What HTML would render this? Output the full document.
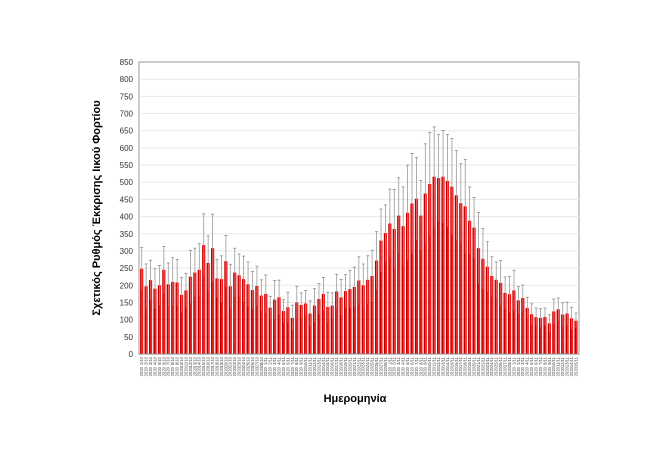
<!DOCTYPE html>
<html><head><meta charset="utf-8"><style>
body{margin:0;background:#fff;width:660px;height:466px;overflow:hidden;font-family:"Liberation Sans",sans-serif}
</style></head><body>
<svg id="s" width="660" height="466" xmlns="http://www.w3.org/2000/svg" font-family="Liberation Sans, sans-serif"></svg>
<script>
(function(){
var v=[248,197,215,190,200,245,203,210,208,172,185,225,237,245,317,265,308,220,218,270,197,237,229,218,203,186,198,170,175,135,158,165,125,136,105,150,143,147,118,
141,160,175,137,141,182,165,183,189,195,214,200,216,227,272,
330,352,380,364,403,372,411,438,452,403,467,495,516,512,516,504,487,462,439,430,388,368,308,277,254,227,216,207,178,174,185,156,163,134,116,107,105,108,89,124,130,115,118,104,97];
var e=[310,262,273,248,258,313,265,280,275,222,235,302,308,321,408,344,407,275,286,345,260,308,291,285,268,240,256,216,230,168,214,215,158,180,142,197,178,185,155,
190,205,223,180,178,232,217,231,243,253,283,262,286,302,356,
422,434,480,479,513,486,550,584,572,505,612,645,661,639,651,639,627,592,554,566,486,456,412,365,327,283,268,272,224,226,244,196,201,165,146,134,132,134,114,160,163,149,151,136,119];
var L=139,R=579,T=62,B=354,k=(B-T)/850;
function Y(a){return B-a*k}
var h='';
h+='<rect x="'+L+'" y="'+T+'" width="'+(R-L)+'" height="'+(B-T)+'" fill="#fff" stroke="#999" stroke-width="1"/>';
for(var t=0;t<=850;t+=50){var yy=Y(t);
 if(t>0&&t<850)h+='<line x1="'+L+'" x2="'+R+'" y1="'+yy.toFixed(1)+'" y2="'+yy.toFixed(1)+'" stroke="#e8e8e8" stroke-width="1"/>';
 h+='<text x="133" y="'+(yy+3).toFixed(1)+'" font-size="8" text-anchor="end" fill="#333">'+t+'</text>';}
var n=v.length,sp=(576-141.7)/(n-1);
for(var i=0;i<n;i++){var cx=141.7+i*sp,tp=Y(v[i]),et=Y(e[i]),eb=Y(Math.max(0,2*v[i]-e[i]));
 h+='<rect x="'+(cx-1.6).toFixed(2)+'" y="'+tp.toFixed(1)+'" width="1.6" height="'+(B-tp).toFixed(1)+'" fill="#b80000"/>';
 h+='<rect x="'+cx.toFixed(2)+'" y="'+tp.toFixed(1)+'" width="1.6" height="'+(B-tp).toFixed(1)+'" fill="#ff1a1a"/>';
 h+='<line x1="'+cx.toFixed(2)+'" x2="'+cx.toFixed(2)+'" y1="'+et.toFixed(1)+'" y2="'+tp.toFixed(1)+'" stroke="#999" stroke-width="0.8"/>';
 h+='<line x1="'+(cx-1.5).toFixed(2)+'" x2="'+(cx+1.5).toFixed(2)+'" y1="'+et.toFixed(1)+'" y2="'+et.toFixed(1)+'" stroke="#888" stroke-width="0.8"/>';
 h+='<line x1="'+cx.toFixed(2)+'" x2="'+cx.toFixed(2)+'" y1="'+tp.toFixed(1)+'" y2="'+eb.toFixed(1)+'" stroke="#e88" stroke-width="0.6"/>';
 var d1=(i%28+1)+'/'+((i<28)?'10':'11'),d2='2020';
 h+='<text transform="translate('+(cx+1.4).toFixed(2)+',357) rotate(-90)" font-size="4.2" text-anchor="end" fill="#444">'+d1+'</text>';
 h+='<text transform="translate('+(cx+1.4).toFixed(2)+',367) rotate(-90)" font-size="4.2" text-anchor="end" fill="#444">'+d2+'</text>';
}
h+='<line x1="'+L+'" x2="'+R+'" y1="'+B+'" y2="'+B+'" stroke="#888" stroke-width="1"/>';
h+='<text x="355" y="402" font-size="11" font-weight="bold" text-anchor="middle" fill="#000">Ημερομηνία</text>';
h+='<text transform="translate(100,208) rotate(-90)" font-size="11" font-weight="bold" text-anchor="middle" fill="#000">Σχετικός Ρυθμός Έκκρισης Ιικού Φορτίου</text>';
document.getElementById('s').innerHTML=h;
})();
</script>
</body></html>
